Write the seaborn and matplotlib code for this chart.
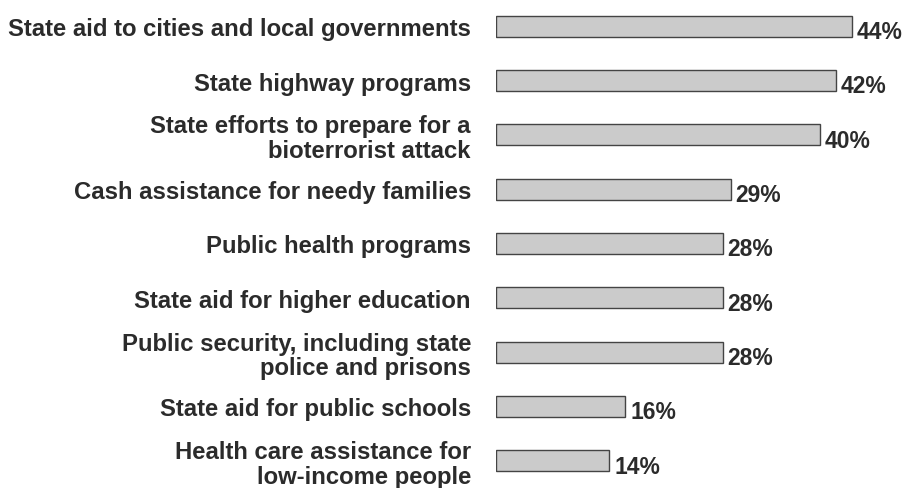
import pandas as pd
import matplotlib.pyplot as plt
import seaborn as sns

# Data
programs = [
    "State aid to cities and local governments",
    "State highway programs",
    "State efforts to prepare for a\nbioterrorist attack",
    "Cash assistance for needy families",
    "Public health programs",
    "State aid for higher education",
    "Public security, including state\npolice and prisons",
    "State aid for public schools",
    "Health care assistance for\nlow-income people",
]
percents = [44, 42, 40, 29, 28, 28, 28, 16, 14]

df = pd.DataFrame({"program": programs, "pct": percents})

sns.set_theme(style="white")
plt.rcParams['font.family'] = ['Liberation Sans', 'DejaVu Sans']

fig = plt.figure(figsize=(9.09, 4.89), dpi=100)
ax = fig.add_axes([496 / 909, 0, 413 / 909, 1])

sns.barplot(data=df, x="pct", y="program", orient="h", ax=ax,
            color="#cbcbcb", edgecolor="#444444", linewidth=1.0,
            width=0.39, saturation=1)

ax.set_xlim(0, 51.05)
ax.set_ylim(8.5, -0.5)
ax.set_xlabel("")
ax.set_ylabel("")
ax.set_xticks([])
for s in ax.spines.values():
    s.set_visible(False)
ax.tick_params(axis="y", length=0, pad=18)
for lbl in ax.get_yticklabels():
    lbl.set_fontsize(17.2)
    lbl.set_fontweight("bold")
    lbl.set_color("#2b2b2b")
    lbl.set_horizontalalignment("right")
    lbl.set_multialignment("right")
    lbl.set_linespacing(1.1)

for i, v in enumerate(percents):
    ax.text(v + 0.6, i + 0.1, f"{v}%", va="center", ha="left",
            fontsize=16.5, fontweight="bold", color="#2b2b2b")

fig.savefig("out.png", dpi=100)
